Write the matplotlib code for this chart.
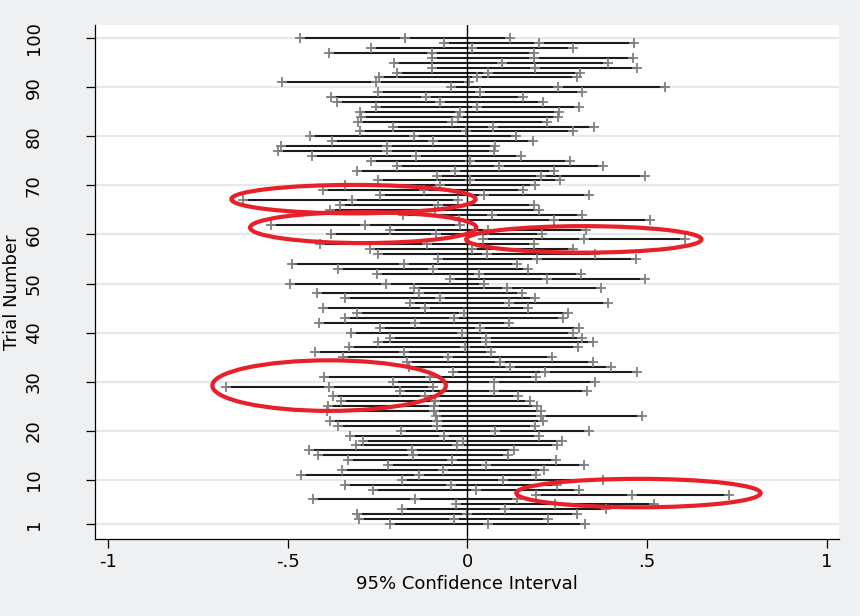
# plot.py
# ---------------------------------------------
# 100 simulated trials: 95% confidence interval per trial,
# with a handful of "misses" circled in red.
# ---------------------------------------------

import numpy as np
import matplotlib.pyplot as plt
from matplotlib.patches import Ellipse


# -----------------------------
# Data (trial 1 .. 100)
# -----------------------------
TRIALS = list(range(1, 101))

LOWER = [
    -0.215, -0.302, -0.307, -0.181, -0.032, -0.431, 0.191, -0.264, -0.340, -0.181,
    -0.463, -0.349, -0.220, -0.333, -0.416, -0.441, -0.311, -0.290, -0.328, -0.184,
    -0.360, -0.383, -0.087, -0.392, -0.387, -0.353, -0.375, -0.189, -0.673, -0.206,
    -0.400, -0.041, -0.164, -0.167, -0.345, -0.423, -0.330, -0.249, -0.216, -0.323,
    -0.243, -0.412, -0.340, -0.306, -0.403, -0.159, -0.340, -0.420, -0.150, -0.494,
    -0.048, -0.253, -0.360, -0.489, -0.082, -0.249, -0.271, -0.410, 0.042, -0.380,
    -0.216, -0.548, -0.024, -0.180, -0.383, -0.354, -0.626, -0.242, -0.401, -0.341,
    -0.249, -0.086, -0.308, -0.197, -0.268, -0.432, -0.526, -0.520, -0.376, -0.437,
    -0.298, -0.208, -0.305, -0.297, -0.300, -0.255, -0.364, -0.381, -0.250, -0.045,
    -0.516, -0.245, -0.197, -0.099, -0.203, -0.099, -0.384, -0.268, -0.064, -0.466,
]

MEAN = [
    0.057, -0.038, -0.002, 0.104, 0.243, -0.147, 0.458, 0.023, -0.047, 0.098,
    -0.136, -0.068, 0.051, -0.042, -0.151, -0.154, -0.030, -0.012, -0.066, 0.077,
    -0.084, -0.084, 0.204, -0.093, -0.092, -0.090, -0.117, 0.073, -0.385, 0.073,
    -0.104, 0.217, 0.118, 0.091, -0.055, -0.177, -0.008, 0.052, 0.052, -0.015,
    0.035, -0.147, -0.038, -0.010, -0.117, 0.116, -0.077, -0.135, 0.109, -0.226,
    0.222, 0.032, -0.095, -0.177, 0.195, 0.054, 0.012, -0.112, 0.324, -0.087,
    0.057, -0.284, 0.242, 0.068, -0.090, -0.083, -0.322, 0.047, -0.122, -0.077,
    0.006, 0.204, -0.034, 0.089, 0.008, -0.143, -0.225, -0.223, -0.097, -0.150,
    -0.003, 0.072, -0.043, -0.025, -0.022, 0.028, -0.076, -0.114, 0.035, 0.251,
    -0.255, 0.028, 0.058, 0.187, 0.095, 0.184, -0.099, 0.013, 0.199, -0.173,
]

UPPER = [
    0.327, 0.224, 0.305, 0.387, 0.518, 0.139, 0.729, 0.311, 0.248, 0.377,
    0.190, 0.212, 0.324, 0.247, 0.114, 0.130, 0.250, 0.263, 0.199, 0.337,
    0.188, 0.211, 0.487, 0.205, 0.195, 0.173, 0.141, 0.334, -0.097, 0.354,
    0.190, 0.473, 0.400, 0.349, 0.235, 0.066, 0.307, 0.349, 0.319, 0.295,
    0.310, 0.116, 0.265, 0.280, 0.169, 0.392, 0.188, 0.153, 0.371, 0.047,
    0.493, 0.317, 0.169, 0.139, 0.470, 0.354, 0.293, 0.186, 0.605, 0.207,
    0.329, -0.020, 0.508, 0.320, 0.200, 0.186, -0.025, 0.339, 0.156, 0.187,
    0.259, 0.493, 0.241, 0.377, 0.286, 0.149, 0.074, 0.076, 0.183, 0.136,
    0.293, 0.353, 0.221, 0.251, 0.256, 0.311, 0.211, 0.154, 0.318, 0.549,
    0.005, 0.306, 0.313, 0.472, 0.392, 0.462, 0.184, 0.293, 0.464, 0.119,
]

# circled intervals: (x centre, trial centre)
CIRCLE_X = [-0.317, -0.290, 0.324, -0.385, 0.476]
CIRCLE_Y = [67.2, 61.4, 59.0, 29.2, 7.3]

XTICKS = [-1, -0.5, 0, 0.5, 1]
XTICKLABELS = ["-1", "-.5", "0", ".5", "1"]
YTICKS = [1, 10, 20, 30, 40, 50, 60, 70, 80, 90, 100]


# -----------------------------
# Style
# -----------------------------
BG = "#eef0f2"
GRID = "#e6e8ea"
LINE = "#1c1c1c"
MARK = "#808080"
RED = "#e8202a"
FS = 13

plt.rcParams["font.family"] = ["DejaVu Sans"]


def main() -> None:
    fig = plt.figure(figsize=(8.6, 6.16), dpi=100, facecolor=BG)
    ax = fig.add_axes([0.1105, 0.125, 0.865, 0.8345])
    ax.set_facecolor("white")

    y = np.array(TRIALS)
    ax.hlines(y, LOWER, UPPER, color=LINE, linewidth=1.5, zorder=3)
    for vals in (LOWER, MEAN, UPPER):
        ax.plot(vals, y, linestyle="none", marker="+", markersize=7.5,
                markeredgewidth=1.3, color=MARK, zorder=4)

    ax.axvline(0, color="black", linewidth=1.0, zorder=5)

    # red circles around the intervals that miss zero
    widths = [0.68, 0.63, 0.655, 0.65, 0.68]
    heights = [5.8, 6.3, 5.4, 10.3, 5.8]
    for cx, cy, w, h in zip(CIRCLE_X, CIRCLE_Y, widths, heights):
        ax.add_patch(Ellipse((cx, cy), w, h, fill=False, edgecolor=RED,
                             linewidth=3.0, zorder=6))

    ax.set_xlim(-1.0365, 1.034)
    ax.set_ylim(-2.06, 102.7)

    ax.set_xticks(XTICKS)
    ax.set_xticklabels(XTICKLABELS)
    ax.set_yticks(YTICKS)
    ax.set_yticklabels([str(t) for t in YTICKS], rotation=90, va="center")

    ax.tick_params(axis="x", length=6.5, width=0.9, pad=3.5, labelsize=FS)
    ax.tick_params(axis="y", length=6.5, width=0.9, pad=31, labelsize=FS)

    ax.yaxis.grid(True, color=GRID, linewidth=1.6, zorder=0)
    ax.set_axisbelow(True)

    for side in ("top", "right"):
        ax.spines[side].set_visible(False)
    for side in ("left", "bottom"):
        ax.spines[side].set_linewidth(0.9)

    ax.set_xlabel("95% Confidence Interval", fontsize=FS, labelpad=3)
    ax.set_ylabel("Trial Number", fontsize=FS)
    ax.yaxis.set_label_coords(-0.099, 0.48)

    fig.savefig("out.png", dpi=100, facecolor=BG)
    plt.close(fig)


if __name__ == "__main__":
    main()
